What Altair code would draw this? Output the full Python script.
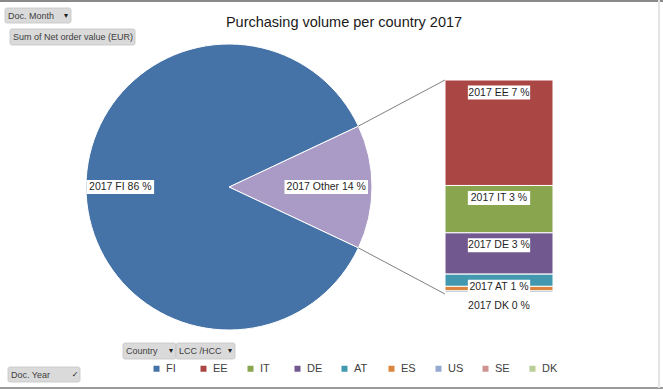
import math
import altair as alt
import pandas as pd

# ---------------- data ----------------
YEAR = "2017"
TITLE = "Purchasing volume per country 2017"
countries = ["FI", "EE", "IT", "DE", "AT", "ES", "US", "SE", "DK"]
shares = [86.0, 6.9, 3.1, 2.7, 0.8, 0.3, 0.1, 0.06, 0.04]
colors = ["#4572A7", "#AA4643", "#89A54E", "#71588F", "#4198AF",
          "#DB843D", "#93A9CF", "#D19392", "#B9CD96"]
other_name = "Other"
other_color = "#A99BC5"
bar_labelled = ["EE", "IT", "DE", "AT", "DK"]

button_text = ["Doc. Month", "Sum of Net order value (EUR)", "Country", "LCC /HCC", "Doc. Year"]
button_icon = ["▾", "", "▾", "▾", "✓"]

# ---------------- layout (pixels) ----------------
W, H = 663, 390
CX, CY, R = 229, 187, 143          # pie centre / radius
BAR_X0, BAR_X1 = 445, 553
BAR_TOP, BAR_BOT = 80, 294
LABEL_R = {"FI": 0.76, "Other": 0.68}
LABEL_DROP = 12.5                  # bar label centre below segment top
BOX_H = 14
FONT = "Liberation Sans"
button_box = [(5, 8, 71, 23), (10, 29, 135, 45), (123, 343, 176, 359),
              (176, 343, 235, 359), (8, 367, 80, 382)]


def ux(px):
    return (px - CX) / R


def uy(py):
    return (CY - py) / R


xs = alt.Scale(domain=[ux(0), ux(W)], nice=False, zero=False)
ys = alt.Scale(domain=[uy(H), uy(0)], nice=False, zero=False)

fi_share = shares[0]
other_total = sum(shares[1:])
start = math.pi / 2 - math.pi * other_total / 100

# pie
pie_df = pd.DataFrame({"cat": [other_name, "FI"], "v": [other_total, fi_share],
                       "ord": [0, 1], "cx": [0.0, 0.0], "cy": [0.0, 0.0]})

# pie labels
pl = []
acc = 0.0
for cat, v in [(other_name, other_total), ("FI", fi_share)]:
    mid = start + 2 * math.pi * (acc + v / 2) / 100
    acc += v
    r = LABEL_R[cat]
    pl.append({"cat": cat, "lx": r * math.sin(mid), "ly": r * math.cos(mid),
               "label": f"{YEAR} {cat} {round(v):.0f} %"})

# bar of pie
k = (uy(BAR_TOP) - uy(BAR_BOT)) / other_total
rows = []
cum = 0.0
for c, v in zip(countries[1:], shares[1:]):
    top = uy(BAR_TOP) - cum * k
    cum += v
    bot = uy(BAR_TOP) - cum * k
    rows.append({"cat": c, "v": v, "x0": ux(BAR_X0), "x1": ux(BAR_X1), "y0": bot, "y1": top})
    if c in bar_labelled:
        pl.append({"cat": c, "lx": ux((BAR_X0 + BAR_X1) / 2), "ly": top - LABEL_DROP / R,
                   "label": f"{YEAR} {c} {round(v):.0f} %"})
bar_df = pd.DataFrame(rows)
lab_df = pd.DataFrame(pl)
hw = (5.3 * lab_df["label"].str.len() + 4) / 2 / R
lab_df["bx0"] = lab_df["lx"] - hw
lab_df["bx1"] = lab_df["lx"] + hw
lab_df["by0"] = lab_df["ly"] - BOX_H / 2 / R
lab_df["by1"] = lab_df["ly"] + BOX_H / 2 / R

# connector lines
d = math.pi * other_total / 100
con_df = pd.DataFrame({
    "x": [math.cos(d), math.cos(d)],
    "y": [math.sin(d), -math.sin(d)],
    "x2": [ux(BAR_X0), ux(BAR_X0)],
    "y2": [uy(BAR_TOP), uy(BAR_BOT)],
})

# ---------------- layers ----------------
pie = alt.Chart(pie_df).mark_arc(radius=R, stroke="white", strokeWidth=1).encode(
    x=alt.X("cx:Q", scale=xs, axis=None),
    y=alt.Y("cy:Q", scale=ys, axis=None),
    theta=alt.Theta("v:Q", stack=True, scale=alt.Scale(range=[start, start + 2 * math.pi])),
    order=alt.Order("ord:Q"),
    color=alt.Color("cat:N", scale=alt.Scale(domain=["FI", other_name], range=[colors[0], other_color]),
                    legend=None),
)

bar = alt.Chart(bar_df).mark_rect(stroke="white", strokeWidth=1).encode(
    x=alt.X("x0:Q", scale=xs, axis=None), x2="x1:Q",
    y=alt.Y("y0:Q", scale=ys, axis=None), y2="y1:Q",
    color=alt.Color("cat:N", scale=alt.Scale(domain=countries, range=colors),
                    legend=alt.Legend(orient="none", legendX=151, legendY=363, direction="horizontal",
                                      columns=9, title=None, symbolType="square", symbolSize=36,
                                      symbolStrokeWidth=0, labelFontSize=11, labelFont=FONT,
                                      labelColor="#404040", gridAlign="all", columnPadding=16,
                                      labelOffset=4, padding=0)),
)

connectors = alt.Chart(con_df).mark_rule(color="#808080", strokeWidth=1).encode(
    x=alt.X("x:Q", scale=xs, axis=None), y=alt.Y("y:Q", scale=ys, axis=None),
    x2="x2:Q", y2="y2:Q",
)

boxes = alt.Chart(lab_df).mark_rect(color="white").encode(
    x=alt.X("bx0:Q", scale=xs, axis=None), x2="bx1:Q",
    y=alt.Y("by0:Q", scale=ys, axis=None), y2="by1:Q",
)

labels = alt.Chart(lab_df).mark_text(font=FONT, fontSize=10.5, color="#1f1f1f", baseline="middle").encode(
    x=alt.X("lx:Q", scale=xs, axis=None), y=alt.Y("ly:Q", scale=ys, axis=None), text="label:N",
)

title = alt.Chart(pd.DataFrame({"t": [TITLE]})).mark_text(
    font=FONT, fontSize=14.5, color="#1a1a1a", baseline="middle").encode(
    x=alt.value(344), y=alt.value(23), text="t:N")

btn_df = pd.DataFrame({"text": button_text, "icon": button_icon,
                       "x0": [b[0] for b in button_box], "y0": [b[1] for b in button_box],
                       "x1": [b[2] for b in button_box], "y1": [b[3] for b in button_box]})
btn_df["tx"] = btn_df["x0"] + 3
btn_df["ix"] = btn_df["x1"] - 5
btn_df["ty"] = (btn_df["y0"] + btn_df["y1"]) / 2

btn_rect = alt.Chart(btn_df).mark_rect(fill="#DADADA", stroke="#C4C4C4", strokeWidth=0.8,
                                        cornerRadius=2).encode(
    x=alt.X("x0:Q", scale=None), x2="x1:Q", y=alt.Y("y0:Q", scale=None), y2="y1:Q")
btn_text = alt.Chart(btn_df).mark_text(font=FONT, fontSize=9, color="#404040", align="left",
                                       baseline="middle").encode(
    x=alt.X("tx:Q", scale=None), y=alt.Y("ty:Q", scale=None), text="text:N")
btn_icon = alt.Chart(btn_df).mark_text(font="DejaVu Sans", fontSize=8, color="#202020",
                                       baseline="middle").encode(
    x=alt.X("ix:Q", scale=None), y=alt.Y("ty:Q", scale=None), text="icon:N")

frame_df = pd.DataFrame({"x": [0, 0, 659], "x2": [W, W, 659], "y": [1, 388, 0], "y2": [1, 388, 388],
                         "c": ["top", "bottom", "right"]})
frame = alt.Chart(frame_df).mark_rule(strokeWidth=2).encode(
    x=alt.X("x:Q", scale=None), x2="x2:Q", y=alt.Y("y:Q", scale=None), y2="y2:Q",
    color=alt.Color("c:N", scale=alt.Scale(domain=["top", "bottom", "right"],
                                           range=["#8a8a8a", "#9a9a9a", "#e4e4e4"]), legend=None))

chart = alt.layer(
    pie, bar, connectors, boxes, labels, title, btn_rect, btn_text, btn_icon, frame
).resolve_scale(color="independent").properties(
    width=W, height=H, padding=0, autosize="none", background="white"
).configure_view(stroke=None)

chart.save("out.html", embed_options={"renderer": "svg", "actions": False})
